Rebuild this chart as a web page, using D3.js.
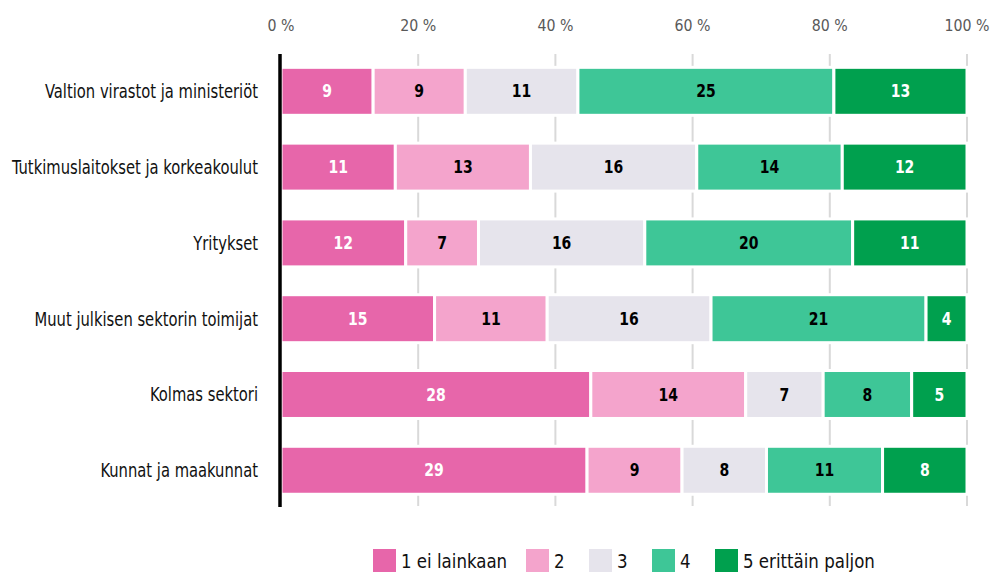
<!DOCTYPE html>
<html>
<head>
<meta charset="utf-8">
<script src="https://cdn.jsdelivr.net/npm/d3@7"></script>
<style>
  html, body { margin: 0; padding: 0; background: #fff; }
  svg { display: block; font-family: "DejaVu Sans Condensed", "DejaVu Sans", sans-serif; }
</style>
</head>
<body>
<svg id="chart" width="994" height="574"></svg>
<script>
const categories = [
  "Valtion virastot ja ministeriöt",
  "Tutkimuslaitokset ja korkeakoulut",
  "Yritykset",
  "Muut julkisen sektorin toimijat",
  "Kolmas sektori",
  "Kunnat ja maakunnat"
];
const seriesNames = ["1 ei lainkaan", "2", "3", "4", "5 erittäin paljon"];
const s1 = [9, 11, 12, 15, 28, 29];
const s2 = [9, 13, 7, 11, 14, 9];
const s3 = [11, 16, 16, 16, 7, 8];
const s4 = [25, 14, 20, 21, 8, 11];
const s5 = [13, 12, 11, 4, 5, 8];
const tickValues = [0, 0.2, 0.4, 0.6, 0.8, 1.0];
const tickLabels = ["0 %", "20 %", "40 %", "60 %", "80 %", "100 %"];

const colors = ["#e766aa", "#f4a4cc", "#e6e4ec", "#3ec697", "#00a04e"];
const labelColors = ["#ffffff", "#000000", "#000000", "#000000", "#ffffff"];
const seriesValues = [s1, s2, s3, s4, s5];
// legend swatch left edges (layout)
const legendX = [373, 526, 589, 652, 715];

const rows = categories.map((c, i) => {
  const o = { cat: c };
  seriesNames.forEach((s, k) => { o[s] = seriesValues[k][i]; });
  return o;
});

const stack = d3.stack().keys(seriesNames).offset(d3.stackOffsetExpand);
const stacked = stack(rows);

const svg = d3.select("#chart");
const x = d3.scaleLinear().domain([0, 1]).range([281, 967]);
const y = d3.scaleBand().domain(categories).range([54, 507.6]).paddingInner(0.367).paddingOuter(0.176);

// condense text horizontally to emulate a condensed typeface
function applyFactor(sel, f) {
  sel.nodes().forEach(n => {
    const w = n.getComputedTextLength();
    n.setAttribute("textLength", w * f);
    n.setAttribute("lengthAdjust", "spacingAndGlyphs");
  });
}
function condense(sel, refText, targetW) {
  const ref = sel.nodes().find(n => n.textContent === refText);
  const f = ref ? targetW / ref.getComputedTextLength() : 1;
  applyFactor(sel, f);
  return f;
}

// gridlines
svg.append("g").selectAll("line").data(tickValues.slice(1)).join("line")
  .attr("x1", d => x(d)).attr("x2", d => x(d))
  .attr("y1", 54).attr("y2", 506)
  .attr("stroke", "#d9d9d9").attr("stroke-width", 2);

// tick labels
const ticks = svg.append("g").selectAll("text").data(tickValues).join("text")
  .attr("x", d => x(d)).attr("y", 31)
  .attr("text-anchor", "middle")
  .attr("font-size", 16.5)
  .attr("fill", "#595959")
  .text((d, i) => tickLabels[i]);
condense(ticks, "100 %", 45);

// bars
const layers = svg.append("g").selectAll("g").data(stacked).join("g")
  .attr("fill", (d, i) => colors[i]);
layers.selectAll("rect").data(d => d.map(v => ({ v }))).join("rect")
  .attr("x", d => x(d.v[0]))
  .attr("y", d => y(d.v.data.cat))
  .attr("width", d => x(d.v[1]) - x(d.v[0]))
  .attr("height", y.bandwidth())
  .attr("stroke", "#fff").attr("stroke-width", 3);

// value labels
const lbl = svg.append("g");
stacked.forEach((layer, k) => {
  lbl.selectAll(null).data(layer).join("text")
    .attr("class", "val")
    .attr("x", d => (x(d[0]) + x(d[1])) / 2)
    .attr("y", d => y(d.data.cat) + y.bandwidth() / 2)
    .attr("dy", "0.36em")
    .attr("text-anchor", "middle")
    .attr("font-size", 17)
    .attr("font-weight", "bold")
    .attr("fill", labelColors[k])
    .text(d => d.data[layer.key]);
});
condense(lbl.selectAll("text.val"), "25", 19.5);

// axis line
svg.append("line")
  .attr("x1", 280).attr("x2", 280).attr("y1", 54).attr("y2", 507)
  .attr("stroke", "#000").attr("stroke-width", 3.5);

// category labels
const cats = svg.append("g").selectAll("text").data(categories).join("text")
  .attr("x", 258)
  .attr("y", d => y(d) + y.bandwidth() / 2)
  .attr("dy", "0.36em")
  .attr("text-anchor", "end")
  .attr("font-size", 19)
  .attr("fill", "#111")
  .text(d => d);
condense(cats, categories[0], 213);

// legend
const legend = svg.append("g");
const items = legend.selectAll("g").data(seriesNames).join("g")
  .attr("transform", (d, i) => `translate(${legendX[i]},0)`);
items.append("rect").attr("width", 23).attr("height", 23).attr("y", 549)
  .attr("fill", (d, i) => colors[i]);
const ltexts = items.append("text").attr("x", 28).attr("y", 567.5)
  .attr("font-size", 20).attr("fill", "#111").text(d => d);
const ln = ltexts.nodes();
const lf = (99 + 139) / (ln[0].getComputedTextLength() + ln[4].getComputedTextLength());
applyFactor(ltexts, lf);
</script>
</body>
</html>
